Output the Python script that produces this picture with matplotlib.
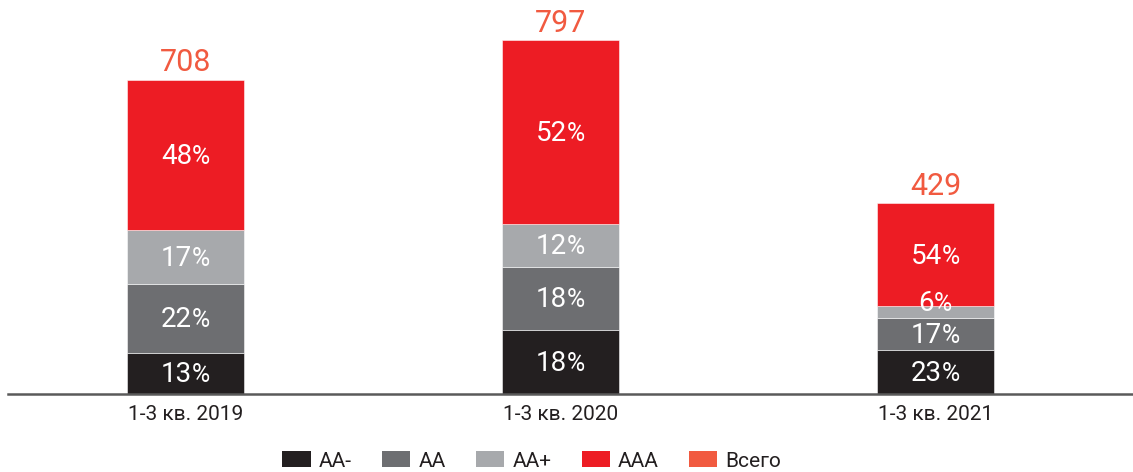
import matplotlib
matplotlib.use("Agg")
import matplotlib.pyplot as plt
from matplotlib.patches import Patch
from matplotlib.offsetbox import TextArea, HPacker, AnnotationBbox
import numpy as np

plt.rcParams['font.family'] = ['Roboto', 'DejaVu Sans']

# Data
periods = ["1-3 кв. 2019", "1-3 кв. 2020", "1-3 кв. 2021"]
totals = [708, 797, 429]
ratings = ["AA-", "AA", "AA+", "AAA"]
share_aa_minus = [13, 18, 23]
share_aa = [22, 18, 17]
share_aa_plus = [17, 12, 6]
share_aaa = [48, 52, 54]
total_label = "Всего"

colors = ["#231f20", "#6d6e71", "#a7a9ac", "#ed1c24"]
total_color = "#f15a40"

shares = [share_aa_minus, share_aa, share_aa_plus, share_aaa]

fig = plt.figure(figsize=(11.33, 4.72), dpi=100)
ax = fig.add_axes([8 / 1133, 78 / 472, 1 - 8 / 1133, 394 / 472])

x = np.arange(len(periods))
width = 0.312
bottom = np.zeros(len(periods))
tot = np.array(totals, dtype=float)

for share, color in zip(shares, colors):
    vals = tot * np.array(share) / 100.0
    ax.bar(x, vals, width, bottom=bottom, color=color,
           edgecolor=(1, 1, 1, 0.6), linewidth=0.6, zorder=2)
    for xi, b, v, p in zip(x, bottom, vals, share):
        yc = b + v / 2
        dy = 7 if p < 10 else 0
        num = TextArea(str(p), textprops=dict(color="white", fontsize=20))
        pct = TextArea("%", textprops=dict(color="white", fontsize=18))
        box = HPacker(children=[num, pct], align="baseline", pad=0, sep=0)
        ab = AnnotationBbox(box, (xi, yc), xybox=(0, dy - 1),
                            boxcoords="offset points", frameon=False,
                            box_alignment=(0.5, 0.5), zorder=4)
        ax.add_artist(ab)
    bottom += vals

for xi, t in zip(x, totals):
    ax.annotate(str(t), (xi, t), xytext=(0, 6), textcoords="offset points",
                ha="center", va="baseline", color=total_color, fontsize=22)

ax.set_xlim(-(185.5 - 8) / 375, 2 + (1133 - 935.5) / 375)
ax.set_ylim(0, 797 * 394 / 354)
ax.set_xticks(x)
ax.set_xticklabels(periods, fontsize=15, color="#231f20")
ax.tick_params(axis="x", length=0, pad=8)
ax.set_yticks([])
for s in ["top", "right", "left"]:
    ax.spines[s].set_visible(False)
ax.spines["bottom"].set_color("#5a5a5a")
ax.spines["bottom"].set_linewidth(1.8)
ax.spines["bottom"].set_zorder(3)

handles = [Patch(facecolor=c, edgecolor="none") for c in colors]
handles.append(Patch(facecolor=total_color, edgecolor="none"))
labels = ratings + [total_label]
fig.legend(handles, labels, loc="center", ncol=5,
           bbox_to_anchor=(532 / 1133, 1 - 461 / 472), frameon=False,
           fontsize=15, handlelength=1.35, handleheight=0.77,
           handletextpad=0.4, columnspacing=1.45, borderpad=0,
           labelcolor="#231f20")

fig.savefig("out.png", dpi=100)
